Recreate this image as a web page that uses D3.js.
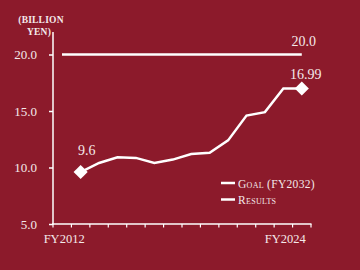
<!DOCTYPE html>
<html><head><meta charset="utf-8">
<script src="https://cdn.jsdelivr.net/npm/d3@7"></script>
<style>
html,body{margin:0;padding:0;background:#8c1a2b;}
svg{display:block;}
text{font-family:"Liberation Serif","DejaVu Serif",serif;fill:#f4e9ea;}
</style></head><body>
<svg id="c" width="360" height="270"></svg>
<script>
const categories = ["FY2012","FY2013","FY2014","FY2015","FY2016","FY2017","FY2018","FY2019","FY2020","FY2021","FY2022","FY2023","FY2024"];
const results = [9.6,10.4,10.9,10.85,10.4,10.7,11.2,11.3,12.4,14.6,14.9,17.0,16.99];
const goalValue = 20.0;
const yTicks = [5,10,15,20];
const xLabels = ["FY2012","FY2024"];
const unitLines = ["(BILLION","YEN)"];
const legendLabels = ["Goal (FY2032)","Results"];

const svg = d3.select("#c");
const W = "#ffffff";
const x0 = 53, xEnd = 311, yTop = 54.5, yBot = 224;
const x = d3.scaleBand().domain(categories).range([x0 + (xEnd - x0)/14, xEnd]).paddingInner(0).paddingOuter(0);
const y = d3.scaleLinear().domain([5,20]).range([yBot, yTop]);
const bw = x.bandwidth();
const cx = c => x(c) + bw/2;

// y axis
const yAxis = d3.axisLeft(y).tickValues(yTicks).tickFormat(d3.format(".1f")).tickSize(4).tickPadding(12);
const gy = svg.append("g").attr("transform",`translate(${x0},0)`).call(yAxis);
gy.select(".domain").remove();
gy.selectAll(".tick line").attr("stroke",W).attr("stroke-width",1.5);
gy.selectAll(".tick text").attr("font-size",13).attr("font-family","Liberation Serif").attr("fill","#f4e9ea");
svg.append("line").attr("x1",x0).attr("x2",x0).attr("y1",32).attr("y2",yBot+0.5).attr("stroke",W).attr("stroke-width",1.5);

// x axis
const tickXs = [x0].concat(categories.map(c => x(c))).concat([xEnd]);
svg.append("line").attr("x1",x0-1).attr("x2",xEnd+0.5).attr("y1",yBot).attr("y2",yBot).attr("stroke",W).attr("stroke-width",1.5);
svg.selectAll(".xt").data(tickXs).enter().append("line").attr("class","xt")
  .attr("x1",d=>d).attr("x2",d=>d).attr("y1",yBot).attr("y2",yBot+3.5).attr("stroke",W).attr("stroke-width",1.2);
svg.selectAll(".xl").data(xLabels).enter().append("text").attr("class","xl")
  .attr("x",d=>cx(d)+4).attr("y",243).attr("text-anchor","end").attr("font-size",12.5).text(d=>d);

// unit label
svg.selectAll(".unit").data(unitLines).enter().append("text").attr("class","unit")
  .attr("x",(d,i)=>i===0?41:39).attr("y",(d,i)=>22.5+i*12).attr("text-anchor","middle").attr("font-size",9.5)
  .attr("font-weight","bold").attr("letter-spacing",0.2).text(d=>d);

// goal line
svg.append("line").attr("x1",62).attr("x2",cx("FY2024")).attr("y1",y(goalValue)).attr("y2",y(goalValue))
  .attr("stroke",W).attr("stroke-width",2.5);
svg.append("text").attr("x",cx("FY2024")+2).attr("y",y(goalValue)-8.5).attr("text-anchor","middle").attr("font-size",14).text(goalValue.toFixed(1));

// results line
const line = d3.line().x((d,i)=>cx(categories[i])).y(d=>y(d));
svg.append("path").datum(results).attr("d",line).attr("fill","none").attr("stroke",W).attr("stroke-width",2.5).attr("stroke-linejoin","miter");

// diamonds
const ends = [0, results.length-1];
svg.selectAll(".dm").data(ends).enter().append("path").attr("class","dm")
  .attr("d",d3.symbol(d3.symbolSquare, 100)())
  .attr("transform",i=>`translate(${cx(categories[i])},${y(results[i])}) rotate(45)`)
  .attr("fill",W);
svg.append("text").attr("x",cx(categories[0])+6).attr("y",y(results[0])-17).attr("text-anchor","middle").attr("font-size",14).text("9.6");
svg.append("text").attr("x",cx(categories[12])+4).attr("y",y(results[12])-10).attr("text-anchor","middle").attr("font-size",14).text(results[12].toFixed(2));

// legend
const lg = svg.selectAll(".lg").data(legendLabels).enter().append("g").attr("class","lg")
  .attr("transform",(d,i)=>`translate(221,${183+i*16.5})`);
lg.append("line").attr("x1",0).attr("x2",14).attr("y1",0).attr("y2",0).attr("stroke",W).attr("stroke-width",2.5);
lg.append("text").attr("x",17).attr("y",4.5).attr("font-size",11.5).style("font-variant","small-caps").attr("letter-spacing",0.3).text(d=>d);
</script>
</body></html>
